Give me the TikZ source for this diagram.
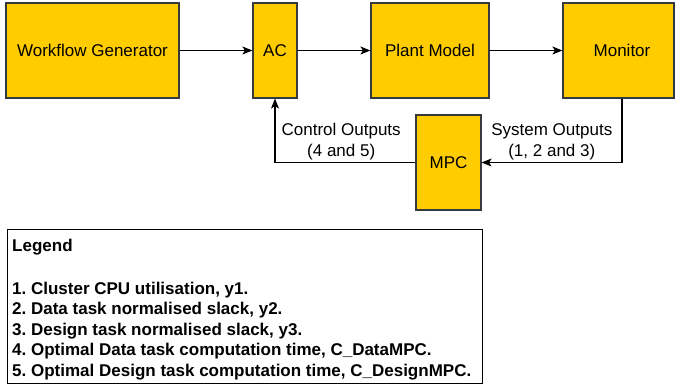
\documentclass[tikz,border=0pt]{standalone}
\usepackage{fontspec}
\setmainfont{Liberation Sans}
\usepackage{tikz}
\usetikzlibrary{arrows.meta}
\tikzset{>={Stealth[length=10pt,width=8pt,inset=2.5pt]}}
\definecolor{blockfill}{HTML}{FFCC00}
\definecolor{blockline}{HTML}{36393D}
\tikzset{
  block/.style={draw=blockline, fill=blockfill, line width=1.2pt, minimum height=95pt, inner sep=0pt,
    font=\fontsize{17}{20.4}\selectfont},
  flow/.style={->, line width=1.2pt},
  flowlabel/.style={align=center, inner sep=2pt, font=\fontsize{17}{20.4}\selectfont}
}

\begin{document}
\frenchspacing
\begin{tikzpicture}[x=1pt, y=-1pt]
                \useasboundingbox (0, 0) rectangle (675, 385);
                \node[block, minimum width=173pt] (wfg) at (92.5, 50.5) {Workflow Generator};
                \node[block, minimum width=44pt] (ac) at (275, 50.5) {AC};
                \node[block, minimum width=118pt] (plant) at (430, 50.5) {Plant Model};
                \node[block, minimum width=111pt] (monitor) at (618.5, 50.5) {\hspace*{7pt}Monitor};
                \node[block, minimum width=65pt] (mpc) at (448.5, 162.5) {MPC};
                \draw[flow] (wfg) -- (ac);
                \draw[flow] (ac) -- (plant);
                \draw[flow] (plant) -- (monitor);
                \draw[flow] ([xshift=3.5pt]monitor.south) |- (mpc.east) node[flowlabel, pos=0.75, above] {System Outputs\\(1, 2 and 3)};
                \draw[flow] (mpc.west) -| (ac.south) node[flowlabel, pos=0.25, above, xshift=-4pt] {Control Outputs\\(4 and 5)};
                % legend box and its text
                \node[draw, line width=1pt, anchor=north west, minimum width=475pt, minimum height=154.5pt] (legend) at (7, 228.5) {};
                \node[anchor=north west, inner sep=0pt, align=left, font=\fontsize{17}{20.5}\selectfont\bfseries] (legendtext)
                  at ([xshift=5pt, yshift=-10pt]legend.north west)
                  {Legend\\[22.5pt]
                   1. Cluster CPU utilisation, y1.\\
                   2. Data task normalised slack, y2.\\
                   3. Design task normalised slack, y3.\\
                   4. Optimal Data task computation time, C\_DataMPC.\\
                   5. Optimal Design task computation time, C\_DesignMPC.};
            \end{tikzpicture}
\end{document}
